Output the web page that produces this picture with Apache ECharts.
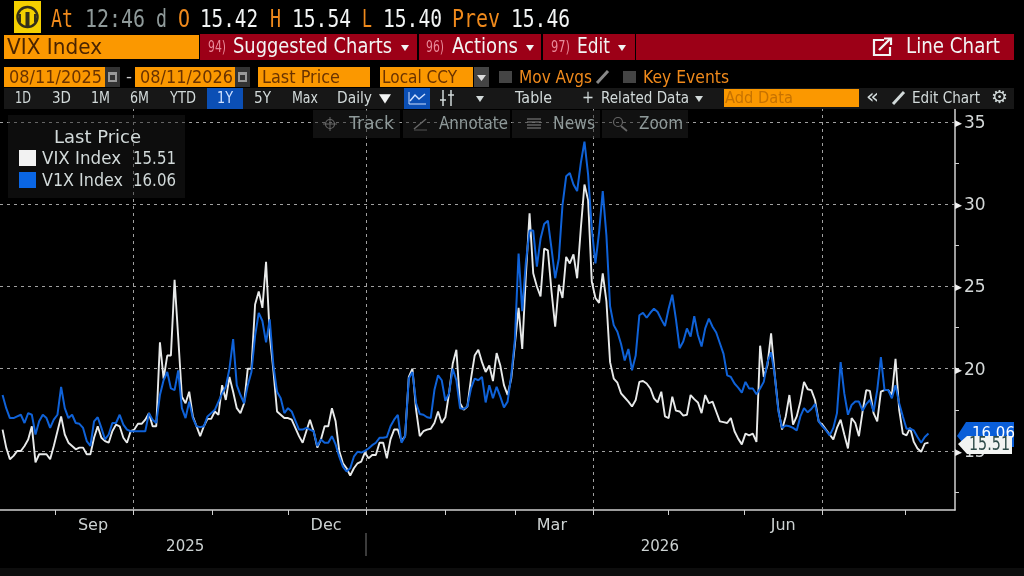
<!DOCTYPE html>
<html><head><meta charset="utf-8">
<style>html,body{margin:0;padding:0;background:#000;overflow:hidden}#c{width:1024px;height:576px;filter:blur(0.45px)}</style>
<script src="https://cdn.jsdelivr.net/npm/echarts@6/dist/echarts.min.js"></script>
</head><body><div id="c"></div>
<script>
const vixValues=[16.3,15.2,14.5,14.7,15.0,15.0,15.3,15.7,16.5,14.3,
14.8,14.8,14.8,14.5,15.3,16.2,17.1,16.0,15.5,15.3,
15.1,15.2,15.2,14.8,14.8,15.8,16.5,15.8,15.6,15.5,
16.2,16.6,16.5,15.8,15.5,16.2,16.3,16.65,16.65,16.9,
17.3,16.5,16.5,21.6,19.4,20.8,20.8,25.4,21.9,18.3,
17.9,18.6,17.1,16.5,15.9,16.5,16.95,16.95,17.4,17.2,
19.0,18.1,19.5,18.6,17.6,17.3,17.9,20.0,20.0,23.9,
24.7,23.7,26.5,22.05,19.9,17.4,17.2,17.0,17.0,16.9,
16.4,15.9,15.5,16.2,16.9,16.2,15.2,15.7,16.5,16.5,
17.6,16.8,15.0,14.25,13.95,13.5,13.95,14.25,14.35,14.9,
14.55,14.75,14.75,15.5,15.5,14.55,15.7,16.3,16.3,15.6,
15.9,19.5,20.0,17.5,15.9,16.2,16.3,16.35,16.7,17.4,
16.7,17.05,18.5,20.3,21.15,17.9,17.5,17.7,19.4,20.8,
21.15,20.4,19.8,20.2,19.25,20.95,20.2,19.0,18.4,19.4,
21.5,23.7,21.2,25.7,29.45,25.8,25.0,24.4,27.3,27.2,
24.7,22.55,25.1,24.3,26.8,26.4,26.95,25.5,28.5,31.2,
30.25,25.3,24.3,24.0,25.8,24.1,20.4,19.4,19.15,18.5,
18.25,18.0,17.7,18.1,19.2,19.25,19.1,18.8,18.2,17.95,
18.6,17.1,17.0,18.3,17.45,17.4,17.15,17.2,18.4,18.15,
17.95,17.3,18.4,17.9,18.0,17.4,16.8,16.75,16.7,17.0,
16.2,15.75,15.4,16.05,15.95,16.05,15.55,21.4,19.5,20.2,
22.15,19.6,17.5,16.3,17.1,18.4,16.6,17.1,18.0,19.2,
18.75,18.7,18.1,16.8,16.6,16.3,16.0,15.7,16.4,16.9,
16.0,15.15,17.0,16.7,15.9,17.4,18.7,18.65,17.3,16.8,
18.6,18.7,18.7,18.4,20.6,17.5,16.05,15.95,16.4,15.55,
15.15,14.95,15.45,15.51];
const v1xValues=[18.4,17.6,17.0,17.0,17.1,17.2,16.7,17.3,17.2,16.0,
16.8,17.2,17.0,16.4,16.9,17.2,18.9,17.6,17.0,17.2,
16.7,16.65,16.4,15.6,15.3,16.8,17.05,16.4,15.7,16.0,
16.7,16.7,17.2,16.6,16.3,16.2,16.2,16.2,16.2,16.2,
17.3,16.9,16.7,18.4,19.3,19.8,18.8,18.7,19.9,17.6,
17.0,18.0,17.0,16.5,16.45,16.5,17.1,17.3,17.5,18.0,
18.5,18.9,20.0,21.8,19.0,18.4,17.9,19.0,19.8,22.0,
23.4,22.9,21.6,23.0,20.2,18.6,18.2,17.3,17.6,17.4,
16.85,16.3,16.3,16.4,16.3,16.2,15.3,15.7,15.5,15.5,
15.9,15.4,14.65,14.05,13.75,13.95,14.65,14.95,14.9,15.0,
15.15,15.35,15.5,15.8,15.8,15.85,16.5,16.9,17.2,15.5,
15.9,19.4,19.8,17.9,17.25,17.2,17.05,17.0,18.7,19.6,
19.3,18.05,18.5,20.0,19.3,17.6,17.55,17.7,18.8,19.4,
19.3,19.5,17.95,19.0,18.2,18.9,18.3,17.65,18.0,19.6,
21.8,27.0,23.5,26.5,28.4,28.4,26.2,27.9,28.8,29.0,
27.3,25.5,26.7,29.95,31.7,31.9,31.2,30.8,32.5,33.8,
31.8,28.5,26.4,28.3,30.8,28.1,23.8,22.65,22.25,21.5,
20.5,21.2,19.9,20.8,23.25,23.4,23.1,23.4,23.65,23.45,
23.0,22.6,23.65,24.5,23.0,21.25,21.65,22.45,21.95,23.2,
22.05,21.35,22.45,23.05,22.55,22.2,21.55,20.9,19.6,19.5,
19.1,18.85,18.55,19.2,18.8,18.8,18.45,18.8,19.2,20.4,
21.0,19.6,17.4,16.4,16.55,16.5,16.4,16.25,17.1,17.6,
17.35,17.55,17.85,16.8,16.5,16.25,15.95,16.4,17.3,20.4,
18.5,17.2,17.8,18.0,18.0,17.45,17.85,18.1,17.4,18.7,
20.7,18.7,18.7,18.2,19.0,17.9,17.1,16.35,16.35,16.25,
15.85,15.5,15.85,16.06];
// x is a trading-day number counted from 08/11/2025
const monthStarts=[14.3,35.7,57.2,78,99.3,120.9,140,161.3,181.8,202.6,224,246.6];
const quarterStarts=[35.7,99.3,161.3,224];
const monthLabels={24.7:'Sep',88.4:'Dec',150.1:'Mar',213.3:'Jun'};
const yearLabels={49.9:'2025',179.6:'2026'};
const yLabels=[15,20,25,30,35];
const yTicks=[12.5,15,17.5,20,22.5,25,27.5,30,32.5,35];

const SANS='"DejaVu Sans"', MONO='"DejaVu Sans Mono"';
const ctx=document.createElement('canvas').getContext('2d');
const g=[];
function T(t,x0,x1,yc,size,fill,fam){
  const font=size+'px '+(fam||SANS);ctx.font=font;
  const w=ctx.measureText(t).width;
  g.push({type:'text',z:120,x:x0,y:yc+1.5,scaleX:(x1-x0)/w,silent:true,
    style:{text:t,font:font,fill:fill,textAlign:'left',textVerticalAlign:'middle'}});
}
function R(x0,y0,x1,y1,fill,z,stroke){
  g.push({type:'rect',z:z||110,silent:true,shape:{x:x0,y:y0,width:x1-x0,height:y1-y0},style:{fill:fill,stroke:stroke||null,lineWidth:stroke?1:0}});
}
function P(pts,stroke,lw,z){g.push({type:'polyline',z:z||121,silent:true,shape:{points:pts},style:{stroke:stroke,lineWidth:lw||1.5,fill:null}});}
function C(cx,cy,r,stroke,lw){g.push({type:'circle',z:121,silent:true,shape:{cx:cx,cy:cy,r:r},style:{stroke:stroke,lineWidth:lw||1.5,fill:null}});}
function Poly(pts,fill,z){g.push({type:'polygon',z:z||121,silent:true,shape:{points:pts},style:{fill:fill}});}

const OR='#f08a1c', ORB='#fb9800', DK='#6a3300', WH='#f2f4f4', GY='#8f9a9a', LT='#d2dada', RED='#9c0017', PK='#e88a9a';
// row 1
R(14,1,41,33,'#f4d000');
C(27.5,17,10,'#33301a',2.5);R(25.5,12,29.5,27,'#33301a',121);R(19,14,21,22,'#33301a',121);R(34,14,36,22,'#33301a',121);R(20,26,35,29,'#f4d000',120);
[['At',51,73,OR],['12:46',85,145,GY],['d',156,167,GY],['O',178,190,OR],['15.42',200,258,WH],['H',270,281,OR],['15.54',292,351,WH],['L',362,372,OR],['15.40',383,442,WH],['Prev',452,500,OR],['15.46',511,570,WH]]
 .forEach(a=>T(a[0],a[1],a[2],18.5,25,a[3],MONO));
// row 2
R(4,35,199,59,ORB);T('VIX Index',7,102,47,21,'#4a2400');
R(200,34,417,60,RED);R(419,34,541,60,RED);R(543,34,635,60,RED);R(636,34,1014,60,RED);
T('94)',208,226,46,16,PK);T('Suggested Charts',233,392,46,21,WH);T('▾',401,409,46,12,WH);
T('96)',426,444,46,16,PK);T('Actions',452,518,46,21,WH);T('▾',526,534,46,12,WH);
T('97)',551,570,46,16,PK);T('Edit',577,610,46,21,WH);T('▾',618,626,46,12,WH);
P([[884,40],[874,40],[874,55],[890,55],[890,47]],WH,2.2);P([[879,50],[890,39]],WH,2.4);P([[884,38.5],[891,38.5],[891,45]],WH,2.2);
T('Line Chart',906,1000,46,21,WH);
// row 3
R(4,67,105,87,ORB);T('08/11/2025',9,102,76.5,18,DK);R(105,67,120,87,'#333');R(108,72,117,82,'#999',111);R(110,75,115,80,'#333',112);
T('-',126,132,76.5,15,'#ccc');
R(135,67,235,87,ORB);T('08/11/2026',140,233,76.5,18,DK);R(235,67,250,87,'#333');R(238,72,247,82,'#999',111);R(240,75,245,80,'#333',112);
R(258,67,370,87,ORB);T('Last Price',262,340,76.5,18,DK);
R(380,67,473,87,ORB);T('Local CCY',382,457,76.5,18,DK);R(474,67,489,87,'#444');T('▾',477,486,76.5,12,'#ddd');
R(499,71,512,83,'#444');T('Mov Avgs',519,592,76.5,18,OR);P([[597,83],[608,71]],'#888',3);
R(623,71,636,83,'#444');T('Key Events',643,729,76.5,18,OR);
// row 4
R(4,88,1014,109,'#171717',105);
[['1D',15,31],['3D',52,71],['1M',91,110],['6M',130,149],['YTD',170,196],['5Y',254,271],['Max',292,318],['Daily',337,372],['Table',515,552],['Related Data',601,689],['Edit Chart',912,980]]
 .forEach(a=>T(a[0],a[1],a[2],97.5,15,LT));
R(207,88,243,109,'#0b4fb5');T('1Y',217,233,97.5,15,'#cfe0ff');
T('▼',379,391,97.5,12,WH);
R(404,88,430,109,'#0b4fb5');P([[410,101],[415,95],[419,99],[425,94]],'#cfe0ff',1.4);P([[409,92],[409,104],[426,104]],'#cfe0ff',1);
P([[443,90],[443,106]],LT,1.5);P([[451,90],[451,106]],LT,1.5);P([[440,100],[446,100]],LT,1.5);P([[448,95],[454,95]],LT,1.5);
T('▾',476,484,97.5,12,LT);T('+',582,594,97.5,17,LT);T('▾',695,703,97.5,12,LT);
R(724,89,859,107,ORB);T('Add Data',725,793,97.5,16,'#c67200');
T('«',866,879,96,20,LT);P([[893,104],[904,92]],LT,3);T('⚙',991,1008,97,18,LT);
// floating toolbar
R(313,110,400,138,'rgba(34,34,34,.5)');R(403,110,510,138,'rgba(34,34,34,.5)');R(512,110,600,138,'rgba(34,34,34,.5)');R(602,110,688,138,'rgba(34,34,34,.5)');
T('Track',349,394,123,18,GY);T('Annotate',439,508,123,18,GY);T('News',553,595,123,18,GY);T('Zoom',639,683,123,18,GY);
C(330,124,4.5,'#666',1.2);P([[323,124],[337,124]],'#666',1);P([[330,117],[330,131]],'#666',1);
P([[414,129],[426,119]],'#666',1.5);P([[414,130],[427,130]],'#555',1);
[119,122,125,128].forEach(y=>P([[527,y],[541,y]],'#777',1.2));
C(618,122,4.5,'#666',1.2);P([[621,126],[627,131]],'#666',1.8);
// legend
R(8,115,185,198,'rgba(28,28,28,.45)');
T('Last Price',54,141,137,18,LT);
R(19,150,36,166,'#f2f2f2');T('VIX Index',42,121,158,18,LT);T('15.51',133,176,158,18,LT);
R(19,172,36,188,'#0a66e4');T('V1X Index',42,123,180,18,LT);T('16.06',133,176,180,18,LT);
// last-value tags
Poly([[957,436],[966,422],[1014,422],[1014,447],[966,447]],'#0a5ed8',125);
g.push({type:'text',z:126,x:972,y:434,silent:true,style:{text:'16.06',font:'15px '+SANS,fill:'#fff',textVerticalAlign:'middle'}});
Poly([[958,444],[967,436],[1012,436],[1012,454],[967,454]],'#f2f4f2',127);
T('15.51',969,1010,444,19,'#2d4a48');
g[g.length-1].z=128;
// bottom
P([[366,533],[366,556]],'#777',1);
R(0,568,1024,576,'#0d0d0d',100);

const DASH={color:'#a0a0a0',width:1,type:[3,4]};
const hGrid=yLabels.map(v=>({yAxis:v}));
const vGrid=quarterStarts.map(v=>({xAxis:v}));
const pts=a=>a.map((v,i)=>[i,v]);
const xRange={min:-0.7,max:260.25};
const chart=echarts.init(document.getElementById('c'),null,{renderer:'canvas'});
chart.setOption({
  backgroundColor:'#000',animation:false,
  textStyle:{fontFamily:SANS},
  grid:{left:0,right:69,top:109,bottom:66,containLabel:false},
  graphic:{elements:g},
  xAxis:[{type:'value',...xRange,position:'bottom',
     axisLine:{show:true,onZero:false,lineStyle:{color:'#d0d0d0',width:1.5}},
     axisTick:{show:true,length:5,lineStyle:{color:'#d0d0d0'},customValues:monthStarts},
     splitLine:{show:false},
     axisLabel:{show:true,color:'#ccd2d2',fontSize:16,margin:8,customValues:Object.keys(monthLabels).map(Number),formatter:v=>monthLabels[v]||''}},
    {type:'value',...xRange,position:'bottom',offset:21,
     axisLine:{show:false},axisTick:{show:false},splitLine:{show:false},
     axisLabel:{show:true,color:'#ccd2d2',fontSize:15,margin:9,customValues:Object.keys(yearLabels).map(Number),formatter:v=>yearLabels[v]||''}}],
  yAxis:{type:'value',position:'right',min:11.41,max:35.79,
     axisLine:{show:true,onZero:false,lineStyle:{color:'#d0d0d0',width:1.5}},
     axisTick:{show:true,length:4,lineStyle:{color:'#d0d0d0'},customValues:yTicks},
     splitLine:{show:false},
     axisLabel:{show:true,margin:0,customValues:yLabels,formatter:v=>'{t|▶}{l|'+v+'}',
       rich:{t:{fontSize:9,color:'#f0f0f0',padding:[3,2,0,0]},l:{fontSize:17,color:'#d4d8d8',padding:[3,0,0,0]}}}},
  series:[
   {name:'VIX Index',type:'line',data:pts(vixValues),showSymbol:false,symbol:'none',z:3,clip:false,
    lineStyle:{color:'#e8eaea',width:1.9},
    markLine:{silent:true,symbol:'none',label:{show:false},animation:false,lineStyle:DASH,z:1,data:hGrid.concat(vGrid)}},
   {name:'V1X Index',type:'line',data:pts(v1xValues),showSymbol:false,symbol:'none',z:4,clip:false,
    lineStyle:{color:'#0f62d8',width:2}}
  ]
});
</script></body></html>
